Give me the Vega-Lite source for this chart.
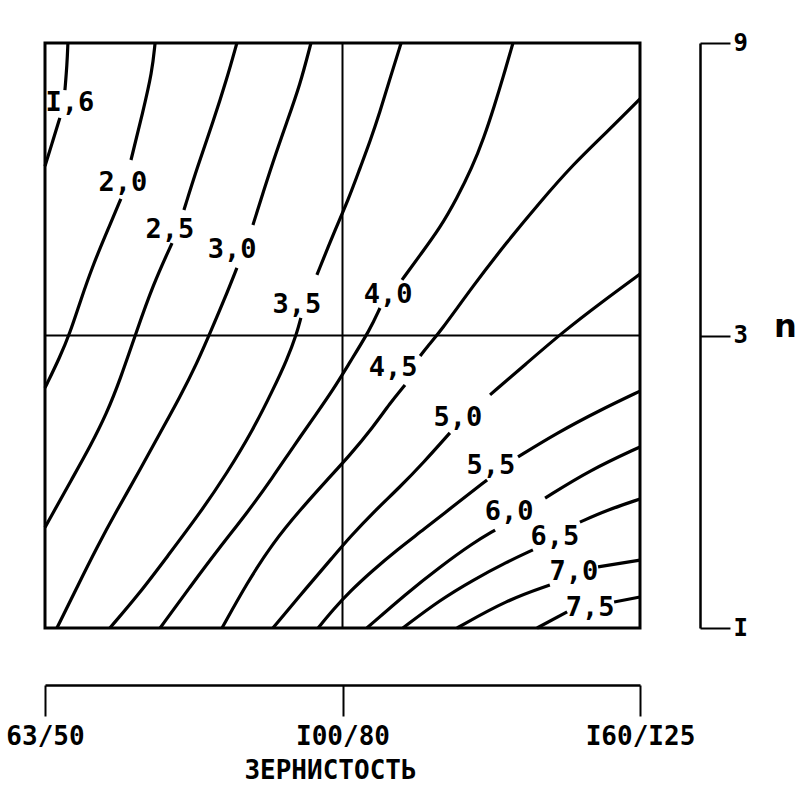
{
  "$schema": "https://vega.github.io/schema/vega-lite/v6.json",
  "width": 595,
  "height": 585,
  "autosize": {"type": "none"},
  "padding": {"left": 45, "top": 43, "right": 161, "bottom": 173},
  "background": "white",
  "config": {
    "view": {"stroke": "black", "strokeWidth": 3},
    "font": "DejaVu Sans Mono"
  },
  "datasets": {
    "contours": [
      {"seg":"1.6a","x":-0.923,"y":1.000},{"seg":"1.6a","x":-0.926,"y":0.925},{"seg":"1.6a","x":-0.933,"y":0.839},
      {"seg":"1.6b","x":-0.950,"y":0.744},{"seg":"1.6b","x":-0.973,"y":0.668},{"seg":"1.6b","x":-1.000,"y":0.579},
      {"seg":"2.0a","x":-0.630,"y":1.000},{"seg":"2.0a","x":-0.640,"y":0.901},{"seg":"2.0a","x":-0.671,"y":0.764},{"seg":"2.0a","x":-0.711,"y":0.600},
      {"seg":"2.0b","x":-0.745,"y":0.467},{"seg":"2.0b","x":-0.782,"y":0.378},{"seg":"2.0b","x":-0.839,"y":0.241},{"seg":"2.0b","x":-0.882,"y":0.115},{"seg":"2.0b","x":-0.916,"y":0.009},{"seg":"2.0b","x":-0.950,"y":-0.074},{"seg":"2.0b","x":-1.000,"y":-0.179},
      {"seg":"2.5a","x":-0.355,"y":1.000},{"seg":"2.5a","x":-0.388,"y":0.880},{"seg":"2.5a","x":-0.435,"y":0.730},{"seg":"2.5a","x":-0.489,"y":0.573},{"seg":"2.5a","x":-0.533,"y":0.429},
      {"seg":"2.5b","x":-0.573,"y":0.316},{"seg":"2.5b","x":-0.637,"y":0.173},{"seg":"2.5b","x":-0.694,"y":0.009},{"seg":"2.5b","x":-0.748,"y":-0.152},{"seg":"2.5b","x":-0.792,"y":-0.265},{"seg":"2.5b","x":-0.849,"y":-0.381},{"seg":"2.5b","x":-0.906,"y":-0.484},{"seg":"2.5b","x":-1.000,"y":-0.656},
      {"seg":"3.0a","x":-0.106,"y":1.000},{"seg":"3.0a","x":-0.143,"y":0.856},{"seg":"3.0a","x":-0.187,"y":0.730},{"seg":"3.0a","x":-0.234,"y":0.593},{"seg":"3.0a","x":-0.277,"y":0.456},{"seg":"3.0a","x":-0.301,"y":0.378},
      {"seg":"3.0b","x":-0.355,"y":0.231},{"seg":"3.0b","x":-0.398,"y":0.121},{"seg":"3.0b","x":-0.445,"y":0.009},{"seg":"3.0b","x":-0.489,"y":-0.094},{"seg":"3.0b","x":-0.546,"y":-0.210},{"seg":"3.0b","x":-0.613,"y":-0.333},{"seg":"3.0b","x":-0.681,"y":-0.460},{"seg":"3.0b","x":-0.758,"y":-0.597},{"seg":"3.0b","x":-0.825,"y":-0.723},{"seg":"3.0b","x":-0.892,"y":-0.860},{"seg":"3.0b","x":-0.960,"y":-1.000},
      {"seg":"3.5a","x":0.197,"y":1.000},{"seg":"3.5a","x":0.160,"y":0.880},{"seg":"3.5a","x":0.126,"y":0.764},{"seg":"3.5a","x":0.092,"y":0.662},{"seg":"3.5a","x":0.059,"y":0.573},{"seg":"3.5a","x":0.022,"y":0.470},{"seg":"3.5a","x":-0.032,"y":0.344},{"seg":"3.5a","x":-0.086,"y":0.207},
      {"seg":"3.5b","x":-0.140,"y":0.060},{"seg":"3.5b","x":-0.153,"y":0.009},{"seg":"3.5b","x":-0.187,"y":-0.084},{"seg":"3.5b","x":-0.234,"y":-0.186},{"seg":"3.5b","x":-0.301,"y":-0.323},{"seg":"3.5b","x":-0.388,"y":-0.470},{"seg":"3.5b","x":-0.479,"y":-0.607},{"seg":"3.5b","x":-0.590,"y":-0.757},{"seg":"3.5b","x":-0.681,"y":-0.880},{"seg":"3.5b","x":-0.782,"y":-1.000},
      {"seg":"4.0a","x":0.573,"y":1.000},{"seg":"4.0a","x":0.539,"y":0.880},{"seg":"4.0a","x":0.512,"y":0.790},{"seg":"4.0a","x":0.475,"y":0.675},{"seg":"4.0a","x":0.435,"y":0.573},{"seg":"4.0a","x":0.385,"y":0.470},{"seg":"4.0a","x":0.328,"y":0.368},{"seg":"4.0a","x":0.261,"y":0.275},{"seg":"4.0a","x":0.200,"y":0.190},
      {"seg":"4.0b","x":0.126,"y":0.094},{"seg":"4.0b","x":0.092,"y":0.019},{"seg":"4.0b","x":0.025,"y":-0.091},{"seg":"4.0b","x":-0.032,"y":-0.186},{"seg":"4.0b","x":-0.086,"y":-0.265},{"seg":"4.0b","x":-0.166,"y":-0.381},{"seg":"4.0b","x":-0.234,"y":-0.484},{"seg":"4.0b","x":-0.321,"y":-0.607},{"seg":"4.0b","x":-0.412,"y":-0.723},{"seg":"4.0b","x":-0.513,"y":-0.860},{"seg":"4.0b","x":-0.613,"y":-1.000},
      {"seg":"4.5a","x":1.000,"y":0.809},{"seg":"4.5a","x":0.889,"y":0.696},{"seg":"4.5a","x":0.775,"y":0.585},{"seg":"4.5a","x":0.664,"y":0.456},{"seg":"4.5a","x":0.553,"y":0.320},{"seg":"4.5a","x":0.439,"y":0.170},{"seg":"4.5a","x":0.328,"y":0.012},{"seg":"4.5a","x":0.284,"y":-0.039},{"seg":"4.5a","x":0.261,"y":-0.070},
      {"seg":"4.5b","x":0.210,"y":-0.169},{"seg":"4.5b","x":0.160,"y":-0.231},{"seg":"4.5b","x":0.103,"y":-0.313},{"seg":"4.5b","x":0.025,"y":-0.409},{"seg":"4.5b","x":-0.052,"y":-0.494},{"seg":"4.5b","x":-0.143,"y":-0.597},{"seg":"4.5b","x":-0.234,"y":-0.709},{"seg":"4.5b","x":-0.321,"y":-0.846},{"seg":"4.5b","x":-0.405,"y":-1.000},
      {"seg":"5.0a","x":1.000,"y":0.210},{"seg":"5.0a","x":0.866,"y":0.110},{"seg":"5.0a","x":0.741,"y":0.012},{"seg":"5.0a","x":0.620,"y":-0.094},{"seg":"5.0a","x":0.496,"y":-0.203},
      {"seg":"5.0b","x":0.361,"y":-0.333},{"seg":"5.0b","x":0.271,"y":-0.436},{"seg":"5.0b","x":0.193,"y":-0.518},{"seg":"5.0b","x":0.103,"y":-0.605},{"seg":"5.0b","x":0.025,"y":-0.689},{"seg":"5.0b","x":-0.032,"y":-0.757},{"seg":"5.0b","x":-0.119,"y":-0.860},{"seg":"5.0b","x":-0.234,"y":-1.000},
      {"seg":"5.5a","x":1.000,"y":-0.190},{"seg":"5.5a","x":0.866,"y":-0.255},{"seg":"5.5a","x":0.721,"y":-0.333},{"seg":"5.5a","x":0.590,"y":-0.415},
      {"seg":"5.5b","x":0.486,"y":-0.494},{"seg":"5.5b","x":0.385,"y":-0.573},{"seg":"5.5b","x":0.271,"y":-0.665},{"seg":"5.5b","x":0.183,"y":-0.733},{"seg":"5.5b","x":0.103,"y":-0.802},{"seg":"5.5b","x":0.025,"y":-0.875},{"seg":"5.5b","x":-0.032,"y":-0.938},{"seg":"5.5b","x":-0.082,"y":-1.000},
      {"seg":"6.0a","x":1.000,"y":-0.381},{"seg":"6.0a","x":0.832,"y":-0.460},{"seg":"6.0a","x":0.681,"y":-0.556},
      {"seg":"6.0b","x":0.513,"y":-0.665},{"seg":"6.0b","x":0.439,"y":-0.709},{"seg":"6.0b","x":0.328,"y":-0.791},{"seg":"6.0b","x":0.217,"y":-0.880},{"seg":"6.0b","x":0.082,"y":-1.000},
      {"seg":"6.5a","x":1.000,"y":-0.559},{"seg":"6.5a","x":0.889,"y":-0.597},{"seg":"6.5a","x":0.798,"y":-0.638},
      {"seg":"6.5b","x":0.640,"y":-0.733},{"seg":"6.5b","x":0.553,"y":-0.774},{"seg":"6.5b","x":0.439,"y":-0.836},{"seg":"6.5b","x":0.328,"y":-0.904},{"seg":"6.5b","x":0.203,"y":-1.000},
      {"seg":"7.0a","x":1.000,"y":-0.768},{"seg":"7.0a","x":0.859,"y":-0.791},
      {"seg":"7.0b","x":0.697,"y":-0.853},{"seg":"7.0b","x":0.553,"y":-0.904},{"seg":"7.0b","x":0.385,"y":-1.000},
      {"seg":"7.5a","x":1.000,"y":-0.894},{"seg":"7.5a","x":0.913,"y":-0.911},
      {"seg":"7.5b","x":0.755,"y":-0.945},{"seg":"7.5b","x":0.654,"y":-1.000}
    ],
    "labels": [
      {"t":"I,6","x":-0.916,"y":0.795},
      {"t":"2,0","x":-0.738,"y":0.521},
      {"t":"2,5","x":-0.580,"y":0.361},
      {"t":"3,0","x":-0.371,"y":0.292},
      {"t":"3,5","x":-0.153,"y":0.104},
      {"t":"4,0","x":0.153,"y":0.138},
      {"t":"4,5","x":0.170,"y":-0.111},
      {"t":"5,0","x":0.388,"y":-0.282},
      {"t":"5,5","x":0.499,"y":-0.446},
      {"t":"6,0","x":0.560,"y":-0.603},
      {"t":"6,5","x":0.714,"y":-0.689},
      {"t":"7,0","x":0.778,"y":-0.809},
      {"t":"7,5","x":0.832,"y":-0.932}
    ],
    "mid": [{"x":0,"y":0}]
  },
  "layer": [
    {
      "data": {"name": "contours"},
      "mark": {"type": "line", "color": "black", "strokeWidth": 3.2, "interpolate": "basis"},
      "encoding": {
        "x": {"field": "x", "type": "quantitative", "scale": {"domain": [-1, 1], "nice": false, "zero": false},
          "axis": {"orient": "bottom", "offset": 57, "values": [-1, 0, 1], "grid": false,
            "labelExpr": "datum.value < -0.5 ? '63/50' : datum.value > 0.5 ? 'I60/I25' : 'I00/80'",
            "domainColor": "black", "domainWidth": 2.5, "tickColor": "black", "tickWidth": 2, "tickSize": 31,
            "labelFont": "DejaVu Sans Mono", "labelFontWeight": "bold", "labelFontSize": 26, "labelColor": "black", "labelPadding": 7,
            "labelFlush": false, "labelOverlap": false,
            "title": "ЗЕРНИСТОСТЬ", "titleFont": "DejaVu Sans Mono", "titleFontWeight": "bold", "titleFontSize": 26, "titleColor": "black",
            "titleX": 285, "titleY": 85, "titleBaseline": "middle", "titleAnchor": "middle"}},
        "y": {"field": "y", "type": "quantitative", "scale": {"domain": [-1, 1], "nice": false, "zero": false},
          "axis": {"orient": "right", "offset": 60, "values": [-1, 0, 1], "grid": false,
            "labelExpr": "datum.value > 0.5 ? '9' : datum.value < -0.5 ? 'I' : '3'",
            "domainColor": "black", "domainWidth": 2.5, "tickColor": "black", "tickWidth": 2, "tickSize": 30,
            "labelFont": "DejaVu Sans Mono", "labelFontWeight": "bold", "labelFontSize": 24, "labelColor": "black", "labelPadding": 3,
            "labelFlush": false, "labelOverlap": false, "labelBaseline": "middle",
            "title": "n", "titleAngle": 0, "titleFont": "DejaVu Sans", "titleFontWeight": "bold", "titleFontSize": 32, "titleColor": "black",
            "titleX": 85, "titleY": 283, "titleBaseline": "middle", "titleAlign": "center"}},
        "detail": {"field": "seg"}
      }
    },
    {
      "data": {"name": "mid"},
      "mark": {"type": "rule", "color": "black", "strokeWidth": 2},
      "encoding": {"x": {"field": "x", "type": "quantitative"}}
    },
    {
      "data": {"name": "mid"},
      "mark": {"type": "rule", "color": "black", "strokeWidth": 2},
      "encoding": {"y": {"field": "y", "type": "quantitative"}}
    },
    {
      "data": {"name": "labels"},
      "mark": {"type": "text", "font": "DejaVu Sans Mono", "fontWeight": "bold", "fontSize": 27, "color": "black", "align": "center", "baseline": "middle"},
      "encoding": {
        "x": {"field": "x", "type": "quantitative"},
        "y": {"field": "y", "type": "quantitative"},
        "text": {"field": "t"}
      }
    }
  ]
}
